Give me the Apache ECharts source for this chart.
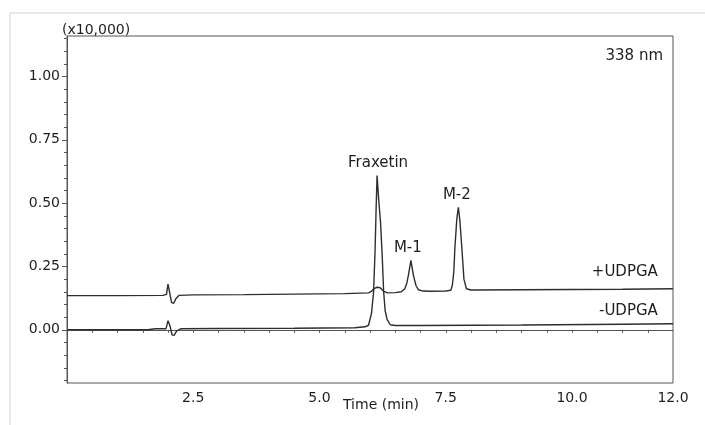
<!DOCTYPE html>
<html>
<head>
<meta charset="utf-8">
<script src="https://cdn.jsdelivr.net/npm/echarts@6/dist/echarts.min.js"></script>
<style>
  html, body { margin: 0; padding: 0; background: #fff; }
  #chart { width: 705px; height: 425px; }
</style>
</head>
<body>
<div id="chart"></div>
<script>
// +UDPGA trace (upper), signal in x10,000
const plusTime = [0, 1.0, 1.9, 1.97, 2.0, 2.03, 2.07, 2.11, 2.16, 2.22, 2.5, 3.5, 4.5, 5.5, 5.97,
  6.03, 6.08, 6.14, 6.2, 6.27, 6.35, 6.5, 6.62, 6.69, 6.73, 6.76, 6.81, 6.86, 6.91, 6.96,
  7.05, 7.2, 7.5, 7.6, 7.63, 7.66, 7.68, 7.72, 7.75, 7.78, 7.82, 7.86, 7.91, 8.0, 9.0, 10.0, 11.0, 12.0]
const plusSignal = [0.135, 0.135, 0.136, 0.14, 0.18, 0.15, 0.108, 0.104, 0.124, 0.136, 0.138, 0.139, 0.141, 0.143, 0.146,
  0.152, 0.163, 0.168, 0.166, 0.152, 0.146, 0.147, 0.15, 0.162, 0.185, 0.215, 0.274, 0.215, 0.175, 0.158,
  0.153, 0.152, 0.153, 0.156, 0.175, 0.23, 0.32, 0.44, 0.484, 0.43, 0.32, 0.2, 0.162, 0.157, 0.158, 0.159, 0.16, 0.162]

// -UDPGA trace (lower)
const minusTime = [0, 1.6, 1.75, 1.96, 2.0, 2.04, 2.08, 2.12, 2.17, 2.25, 3.0, 4.5, 5.7, 5.9, 5.97,
  6.03, 6.07, 6.1, 6.12, 6.14, 6.17, 6.21, 6.24, 6.27, 6.3, 6.34, 6.4, 6.5, 7.0, 9.0, 11.0, 12.0]
const minusSignal = [0.0, 0.0, 0.004, 0.004, 0.036, 0.015, -0.02, -0.022, -0.005, 0.004, 0.005, 0.006, 0.008, 0.012, 0.018,
  0.065, 0.147, 0.31, 0.47, 0.609, 0.52, 0.42, 0.3, 0.15, 0.075, 0.04, 0.02, 0.017, 0.017, 0.019, 0.022, 0.024]

// peak labels
const peakNames = ['Fraxetin', 'M-1', 'M-2']
const peakTimes = [6.16, 6.75, 7.72]
const peakTops = [0.609, 0.274, 0.484]

// trace labels (anchored at their right edge)
const traceNames = ['+UDPGA', '-UDPGA']
const traceTimes = [11.7, 11.7]
const traceLevels = [0.226, 0.072]

// axis ticks
const xLabelValues = [2.5, 5, 7.5, 10, 12]
const xTickValues = [0.5, 1, 1.5, 2, 2.5, 3, 3.5, 4, 4.5, 5, 5.5, 6, 6.5, 7, 7.5, 8, 8.5, 9, 9.5, 10, 10.5, 11, 11.5]
const yLabelValues = [0, 0.25, 0.5, 0.75, 1.0]
const yMinorValues = [-0.2, -0.15, -0.1, -0.05, 0.05, 0.1, 0.15, 0.2, 0.3, 0.35, 0.4, 0.45, 0.55, 0.6, 0.65, 0.7,
  0.8, 0.85, 0.9, 0.95, 1.05, 1.1, 1.15]

const FONT = 'DejaVu Sans'
const INK = '#1e1e1e'
const AXIS = '#555'
const TRACE = '#2e2e2e'

const zip = (a, b) => a.map((v, i) => [v, b[i]])

const chart = echarts.init(document.getElementById('chart'), null, { renderer: 'canvas' })
chart.setOption({
  animation: false,
  backgroundColor: '#fff',
  grid: {
    left: 67,
    right: 32,
    top: 36,
    bottom: 42,
    show: true,
    borderColor: AXIS,
    borderWidth: 1,
  },
  graphic: [
    {
      type: 'rect',
      shape: { x: 10, y: 13, width: 720, height: 450 },
      style: { fill: 'none', stroke: '#d2d2d2', lineWidth: 1 },
      silent: true,
    },
    {
      type: 'text', left: 62, top: 23,
      style: { text: '(x10,000)', fill: INK, font: '14px "DejaVu Sans"' },
    },
    {
      type: 'text', right: 42, top: 49,
      style: { text: '338 nm', fill: INK, font: '15px "DejaVu Sans"' },
    },
    {
      type: 'text', left: 343, top: 398,
      style: { text: 'Time (min)', fill: INK, font: '14px "DejaVu Sans"' },
    },
  ],
  xAxis: {
    type: 'value',
    min: 0,
    max: 12,
    splitLine: { show: false },
    axisLine: { show: true, lineStyle: { color: AXIS, width: 1 } },
    axisTick: { show: true, length: 3, customValues: xTickValues, lineStyle: { color: AXIS } },
    axisLabel: {
      customValues: xLabelValues,
      formatter: v => v.toFixed(1),
      margin: 8,
      color: INK,
      fontFamily: FONT,
      fontSize: 14,
    },
  },
  yAxis: [
    {
      type: 'value',
      min: -0.21,
      max: 1.16,
      splitLine: { show: false },
      axisLine: { show: true, lineStyle: { color: AXIS, width: 1 } },
      axisTick: { show: true, length: 5, customValues: yLabelValues, lineStyle: { color: AXIS } },
      axisLabel: {
        customValues: yLabelValues,
        formatter: v => v.toFixed(2),
        margin: 7,
        color: INK,
        fontFamily: FONT,
        fontSize: 14,
      },
    },
    {
      type: 'value',
      min: -0.21,
      max: 1.16,
      position: 'left',
      splitLine: { show: false },
      axisLine: { show: false },
      axisTick: { show: true, length: 3, customValues: yMinorValues, lineStyle: { color: AXIS } },
      axisLabel: { show: false },
    },
  ],
  series: [
    {
      name: '+UDPGA',
      type: 'line',
      data: zip(plusTime, plusSignal),
      showSymbol: false,
      lineStyle: { color: TRACE, width: 1.4 },
      z: 3,
    },
    {
      name: '-UDPGA',
      type: 'line',
      data: zip(minusTime, minusSignal),
      showSymbol: false,
      lineStyle: { color: TRACE, width: 1.4 },
      z: 3,
    },
    {
      name: 'peaks',
      type: 'scatter',
      symbolSize: 0,
      itemStyle: { opacity: 1 },
      data: peakNames.map((n, i) => ({ name: n, value: [peakTimes[i], peakTops[i]] })),
      label: {
        show: true,
        position: 'top',
        distance: 5,
        formatter: p => p.name,
        color: INK,
        fontFamily: FONT,
        fontSize: 15,
      },
      silent: true,
    },
    {
      name: 'traces',
      type: 'scatter',
      symbolSize: 0,
      itemStyle: { opacity: 1 },
      data: traceNames.map((n, i) => ({ name: n, value: [traceTimes[i], traceLevels[i]] })),
      label: {
        show: true,
        position: 'left',
        distance: 0,
        formatter: p => p.name,
        color: INK,
        fontFamily: FONT,
        fontSize: 15,
      },
      silent: true,
    },
  ],
})
</script>
</body>
</html>
